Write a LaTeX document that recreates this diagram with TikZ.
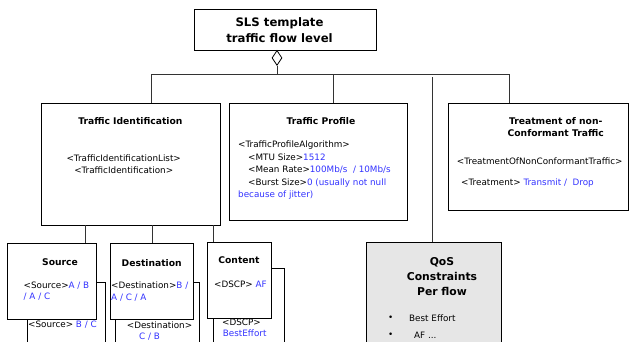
\documentclass[tikz,border=0pt]{standalone}
\usepackage{fontspec}
\setmainfont{DejaVu Sans}
\usetikzlibrary{shapes.geometric}
\usetikzlibrary{positioning}
\definecolor{valblue}{RGB}{51,51,255}
\definecolor{qosgray}{RGB}{230,230,230}
\newcommand{\val}[1]{\textcolor{valblue}{#1}}
\newcommand{\bodysize}{\fontsize{8.8}{12.5}\selectfont}
\newcommand{\titlesize}{\fontsize{9.2}{12.3}\selectfont\bfseries}
\tikzstyle{block} = [draw, fill=white, line width=0.8pt, inner sep=0pt]
\tikzstyle{line} = [draw, line width=0.8pt, black!80]

\begin{document}
\begin{tikzpicture}[x=1pt, y=-1pt,
        title/.style={font=\titlesize, align=center, inner sep=0pt},
        txt/.style={font=\bodysize, align=left, inner sep=0pt, anchor=west},
        ctxt/.style={font=\bodysize, align=center, inner sep=0pt}]
        \useasboundingbox (0,0) rectangle (629,341);
        %% Boxes
        \node [block, minimum width=182pt, minimum height=41pt] at (285,29.5) (sls) {};
        \node [block, minimum width=179pt, minimum height=122pt] at (130.5,164) (tid) {};
        \node [block, minimum width=178pt, minimum height=117pt] at (318,161.5) (prof) {};
        \node [block, minimum width=180.5pt, minimum height=107pt] at (538.25,156.5) (treat) {};
        \node [block, fill=qosgray, minimum width=135pt, minimum height=118pt] at (433.5,301) (qos) {};
        \node [block, minimum width=78pt, minimum height=78pt] at (66,321) (srcback) {};
        \node [block, minimum width=84pt, minimum height=78pt] at (157,321) (dstback) {};
        \node [block, minimum width=71pt, minimum height=92pt] at (248.5,314) (cntback) {};
        \node [block, minimum width=89pt, minimum height=76pt] at (51.5,281) (src) {};
        \node [block, minimum width=83pt, minimum height=76pt] at (151.5,281) (dst) {};
        \node [block, minimum width=64pt, minimum height=76pt] at (239,280) (cnt) {};
        \node [draw, diamond, fill=white, line width=0.8pt, inner sep=0pt,
            minimum width=10pt, minimum height=15pt, anchor=north] at (277,50) (agg) {};
        %% Joints
        \coordinate (bus) at (277,74);
        \coordinate (tidin) at (151,103);
        \coordinate (profin) at (333,103);
        \coordinate (treatin) at (509,103);
        \coordinate (qosin) at (432,77);
        \coordinate (srcin) at (85,225);
        \coordinate (dstin) at (152,225);
        \coordinate (cntin) at (213,225);
        %% Links
        \path [line] (agg.south) -- (bus);
        \path [line] (bus) -| (tidin);
        \path [line] (bus) -| (treatin);
        \path [line] (bus -| profin) -- (profin);
        \path [line] (qosin) -- (qosin |- qos.north);
        \path [line] (srcin) -- (srcin |- src.north);
        \path [line] (dstin) -- (dstin |- dst.north);
        \path [line] (cntin) -- (cntin |- cnt.north);
        %% Texts
        \node [title, font=\fontsize{11.7}{15.4}\selectfont\bfseries] at (279.5,30) (slstext)
            {SLS template\\traffic flow level};
        \node [title] at (130.4,121) (tidtitle) {Traffic Identification};
        \node [ctxt] at (123.7,164) (tidtext)
            {<TrafficIdentificationList>\\<TrafficIdentification>};
        \node [title] at (321,121) (proftitle) {Traffic Profile};
        \node [txt] at (238,170.5) (proftext)
            {<TrafficProfileAlgorithm>\\
            \hspace*{10pt}<MTU Size>\val{1512}\\
            \hspace*{10pt}<Mean Rate>\val{100Mb/s~~/ 10Mb/s}\\
            \hspace*{10pt}<Burst Size>\val{0 (usually not null}\\
            \val{because of jitter)}};
        \node [title] at (555.7,127.2) (treattitle) {Treatment of non-\\Conformant Traffic};
        \node [txt] at (456.7,161.7) (treattext) {<TreatmentOfNonConformantTraffic>};
        \node [txt] at (461,183) (treatval) {<Treatment> \val{Transmit /~~Drop}};
        \node [title] at (60,261.7) (srctitle) {Source};
        \node [txt, font=\fontsize{8.8}{11.3}\selectfont] at (23.5,291.3) (srctext)
            {<Source>\val{A / B}\\\val{/ A / C}};
        \node [txt] at (28,325) (srcbacktext) {<Source> \val{B / C}};
        \node [title] at (151.7,262.7) (dsttitle) {Destination};
        \node [txt, font=\fontsize{8.8}{12.3}\selectfont] at (111,291.8) (dsttext)
            {<Destination>\val{B /}\\\val{A / C / A}};
        \node [ctxt] at (159.5,325) (dstbacktext) {<Destination>};
        \node [ctxt] at (149.5,336.7) (dstbackval) {\val{C / B}};
        \node [title] at (239,260.3) (cnttitle) {Content};
        \node [txt] at (214,284.3) (cnttext) {<DSCP> \val{AF}};
        \node [txt] at (222,322) (cntbacktext) {<DSCP>};
        \node [txt] at (222.7,333) (cntbackval) {\val{BestEffort}};
        \node [title, font=\fontsize{10.8}{14.8}\selectfont\bfseries] at (442,276.6) (qostitle)
            {QoS\\Constraints\\Per flow};
        \node [ctxt] at (390.7,318.7) (bulleta) {\textbullet};
        \node [ctxt] at (390.7,335) (bulletb) {\textbullet};
        \node [txt] at (409,318.7) (qosa) {Best Effort};
        \node [txt] at (414,335) (qosb) {AF ...};
    \end{tikzpicture}
\end{document}
